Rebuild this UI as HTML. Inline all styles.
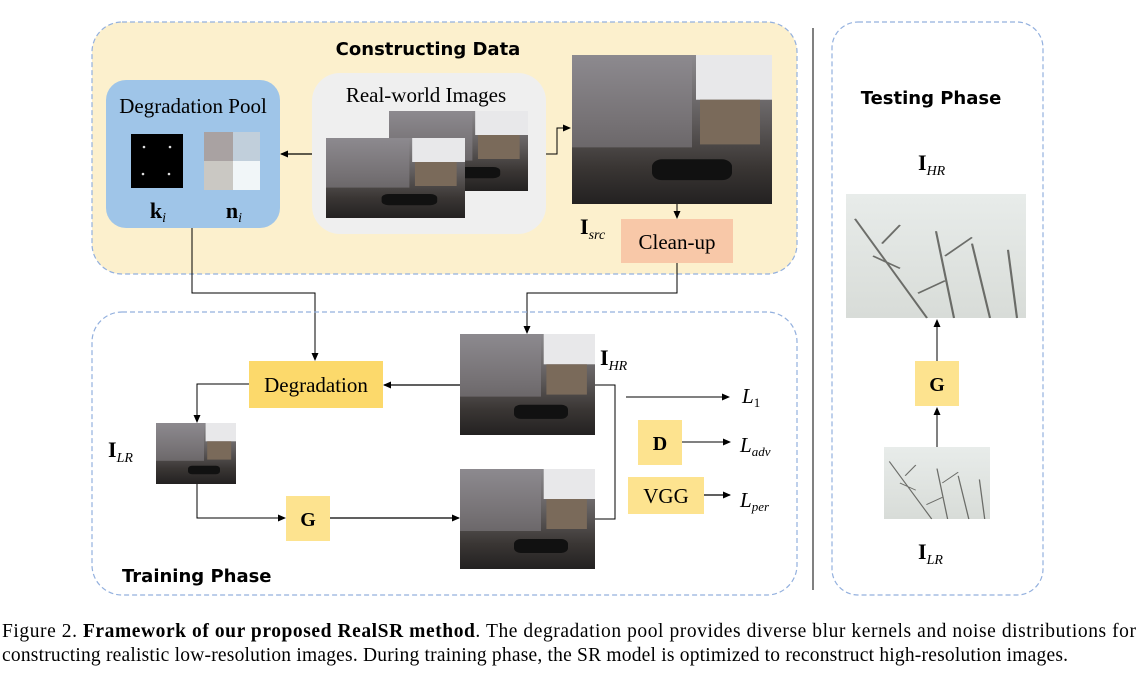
<!DOCTYPE html>
<html><head><meta charset="utf-8"><style>
html,body{margin:0;padding:0;background:#fff;width:1146px;height:675px;overflow:hidden}
svg{display:block}
.s{font-family:"DejaVu Sans","Liberation Sans",sans-serif;font-weight:bold}
.r{font-family:"Liberation Serif",serif}
</style></head><body>
<svg width="1146" height="675" viewBox="0 0 1146 675" xmlns="http://www.w3.org/2000/svg">
<defs>
<linearGradient id="bld" x1="0" y1="0" x2="0" y2="1">
<stop offset="0" stop-color="#8c8a8e"/><stop offset="0.45" stop-color="#5e5a5a"/><stop offset="0.75" stop-color="#3a3634"/><stop offset="1" stop-color="#232121"/></linearGradient>
<linearGradient id="tree" x1="0" y1="0" x2="0" y2="1">
<stop offset="0" stop-color="#e8ecea"/><stop offset="1" stop-color="#d8dcd8"/></linearGradient>
<marker id="a" markerWidth="8" markerHeight="8" refX="7" refY="4" orient="auto" markerUnits="userSpaceOnUse"><path d="M0,0.5 L8,4 L0,7.5 Z" fill="#000"/></marker>
<g id="photo">
<rect width="100" height="100" fill="url(#bld)"/>
<rect x="0" y="0" width="60" height="62" fill="#8e8a90" opacity="0.5"/>
<rect x="62" y="0" width="38" height="30" fill="#e8e8ea"/>
<rect x="64" y="30" width="30" height="30" fill="#7a6a5a"/>
<rect x="40" y="70" width="40" height="14" fill="#111" rx="5"/>
</g>
<g id="trees">
<rect width="100" height="100" fill="url(#tree)"/>
<path d="M5,20 L45,100 M20,40 L30,25 M30,60 L15,50 M50,30 L60,100 M55,50 L70,35 M70,40 L80,100 M90,45 L95,100 M40,80 L55,70" stroke="#3a3a36" stroke-width="1.2" fill="none" opacity="0.7"/>
</g>
</defs>

<rect x="92" y="22" width="705" height="252" rx="30" fill="#fcf0cd" stroke="#93b0de" stroke-width="1.2" stroke-dasharray="5,3"/>
<text x="428" y="55" class="s" font-size="18" text-anchor="middle">Constructing Data</text>
<rect x="106" y="80" width="174" height="148" rx="20" fill="#9fc5e8"/>
<text x="193" y="113" class="r" font-size="21" text-anchor="middle">Degradation Pool</text>
<rect x="131" y="134" width="52" height="54" fill="#000"/>
<circle cx="144" cy="147" r="1.3" fill="#ddd"/><circle cx="170" cy="147" r="1.3" fill="#ddd"/><circle cx="143" cy="174" r="1.3" fill="#ddd"/><circle cx="169" cy="174" r="1.3" fill="#ddd"/>
<rect x="204" y="132" width="29" height="29" fill="#a9a2a2"/><rect x="233" y="132" width="27" height="29" fill="#c1cfdb"/>
<rect x="204" y="161" width="29" height="29" fill="#cac8c3"/><rect x="233" y="161" width="27" height="29" fill="#f1f6f8"/>
<text x="158" y="218" class="r" font-size="22" font-weight="bold" text-anchor="middle">k<tspan font-size="14" font-style="italic" font-weight="normal" dy="4">i</tspan></text>
<text x="234" y="218" class="r" font-size="22" font-weight="bold" text-anchor="middle">n<tspan font-size="14" font-style="italic" font-weight="normal" dy="4">i</tspan></text>
<rect x="312" y="73" width="234" height="161" rx="28" fill="#efefef"/>
<text x="426" y="102" class="r" font-size="21" text-anchor="middle">Real-world Images</text>
<use href="#photo" transform="translate(389,111) scale(1.39,0.8)"/>
<use href="#photo" transform="translate(326,138) scale(1.39,0.8)"/>
<use href="#photo" transform="translate(572,55) scale(2.0,1.49)"/>
<line x1="312" y1="154" x2="281" y2="154" stroke="#000" stroke-width="1.2" marker-end="url(#a)"/>
<polyline points="546,154 557,154 557,128 570,128" fill="none" stroke="#000" stroke-width="1" marker-end="url(#a)"/>
<line x1="677" y1="204" x2="677" y2="218" stroke="#000" stroke-width="1" marker-end="url(#a)"/>
<rect x="621" y="219" width="112" height="44" fill="#f8c8a8"/>
<text x="677" y="249" class="r" font-size="21" text-anchor="middle">Clean-up</text>
<text x="580" y="234" class="r" font-size="22" font-weight="bold">I<tspan font-size="14" font-style="italic" font-weight="normal" dy="5">src</tspan></text>

<polyline points="192,228 192,293 315,293 315,360" fill="none" stroke="#000" stroke-width="1" marker-end="url(#a)"/>
<polyline points="677,263 677,293 527,293 527,333" fill="none" stroke="#000" stroke-width="1" marker-end="url(#a)"/>

<rect x="92" y="312" width="705" height="283" rx="30" fill="none" stroke="#93b0de" stroke-width="1.2" stroke-dasharray="5,3"/>
<rect x="249" y="361" width="134" height="47" fill="#fcd96b"/>
<text x="316" y="392" class="r" font-size="21" text-anchor="middle">Degradation</text>
<use href="#photo" transform="translate(460,334) scale(1.35,1.01)"/>
<use href="#photo" transform="translate(460,469) scale(1.35,1.0)"/>
<use href="#photo" transform="translate(156,423) scale(0.8,0.61)"/>
<text x="600" y="365" class="r" font-size="22" font-weight="bold">I<tspan font-size="14" font-style="italic" font-weight="normal" dy="5">HR</tspan></text>
<text x="108" y="457" class="r" font-size="22" font-weight="bold">I<tspan font-size="14" font-style="italic" font-weight="normal" dy="5">LR</tspan></text>
<line x1="460" y1="385" x2="384" y2="385" stroke="#000" stroke-width="1.2" marker-end="url(#a)"/>
<polyline points="249,384 197,384 197,422" fill="none" stroke="#000" stroke-width="1" marker-end="url(#a)"/>
<polyline points="197,484 197,518 285,518" fill="none" stroke="#000" stroke-width="1" marker-end="url(#a)"/>
<rect x="286" y="496" width="44" height="45" fill="#fde38f"/>
<text x="308" y="526" class="r" font-size="20" font-weight="bold" text-anchor="middle">G</text>
<line x1="330" y1="518" x2="459" y2="518" stroke="#000" stroke-width="1.2" marker-end="url(#a)"/>
<polyline points="595,385 615,385 615,519 595,519" fill="none" stroke="#000" stroke-width="1"/>
<line x1="626" y1="397" x2="729" y2="397" stroke="#000" stroke-width="1" marker-end="url(#a)"/>
<rect x="638" y="420" width="44" height="45" fill="#fde38f"/>
<text x="660" y="450" class="r" font-size="20" font-weight="bold" text-anchor="middle">D</text>
<line x1="682" y1="442" x2="730" y2="442" stroke="#000" stroke-width="1" marker-end="url(#a)"/>
<rect x="628" y="477" width="76" height="37" fill="#fde38f"/>
<text x="666" y="503" class="r" font-size="21" text-anchor="middle">VGG</text>
<line x1="704" y1="495" x2="730" y2="495" stroke="#000" stroke-width="1.2" marker-end="url(#a)"/>
<text x="742" y="403" class="r" font-size="21" font-style="italic">L<tspan font-size="13" font-style="normal" dy="4">1</tspan></text>
<text x="740" y="452" class="r" font-size="21" font-style="italic">L<tspan font-size="13" dy="4">adv</tspan></text>
<text x="740" y="507" class="r" font-size="21" font-style="italic">L<tspan font-size="13" dy="4">per</tspan></text>
<text x="122" y="582" class="s" font-size="18">Training Phase</text>

<line x1="813" y1="28" x2="813" y2="590" stroke="#000" stroke-width="1"/>

<rect x="832" y="22" width="211" height="573" rx="26" fill="none" stroke="#93b0de" stroke-width="1.2" stroke-dasharray="5,3"/>
<text x="931" y="104" class="s" font-size="18" text-anchor="middle">Testing Phase</text>
<text x="918" y="170" class="r" font-size="22" font-weight="bold">I<tspan font-size="14" font-style="italic" font-weight="normal" dy="5">HR</tspan></text>
<use href="#trees" transform="translate(846,194) scale(1.8,1.24)"/>
<line x1="937" y1="361" x2="937" y2="320" stroke="#000" stroke-width="1" marker-end="url(#a)"/>
<rect x="915" y="361" width="44" height="45" fill="#fde38f"/>
<text x="937" y="391" class="r" font-size="20" font-weight="bold" text-anchor="middle">G</text>
<line x1="937" y1="447" x2="937" y2="408" stroke="#000" stroke-width="1" marker-end="url(#a)"/>
<use href="#trees" transform="translate(884,447) scale(1.06,0.72)"/>
<text x="918" y="559" class="r" font-size="22" font-weight="bold">I<tspan font-size="14" font-style="italic" font-weight="normal" dy="5">LR</tspan></text>

<text x="2" y="637" class="r" font-size="19.5" textLength="1134" lengthAdjust="spacing">Figure 2. <tspan font-weight="bold">Framework of our proposed RealSR method</tspan>. The degradation pool provides diverse blur kernels and noise distributions for</text>
<text x="2" y="661" class="r" font-size="19.5" textLength="1066" lengthAdjust="spacing">constructing realistic low-resolution images. During training phase, the SR model is optimized to reconstruct high-resolution images.</text>
</svg>
</body></html>
